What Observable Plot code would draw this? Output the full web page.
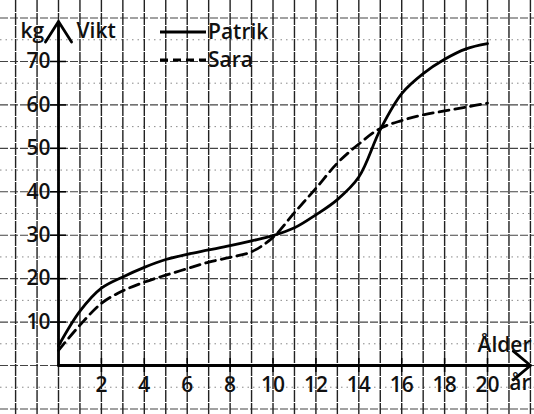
<!DOCTYPE html>
<html>
<head>
<meta charset="utf-8">
<script src="https://cdn.jsdelivr.net/npm/d3@7"></script>
<script src="https://cdn.jsdelivr.net/npm/@observablehq/plot@0.6"></script>
<style>
  html, body { margin: 0; padding: 0; background: #fff; }
  #chart svg { display: block; }
</style>
</head>
<body>
<div id="chart"></div>
<script>
// Data (age in years, weight in kg)
const ages = [0,1,2,3,4,5,6,7,8,9,10,11,12,13,14,15,16,17,18,19,20];
const patrik = [4.5,12.5,17.8,20.4,22.6,24.4,25.6,26.6,27.6,28.7,29.9,31.7,34.7,38.2,43.4,54.3,62.6,67.2,70.5,72.9,74.1];
const sara   = [3.5,9.3,14.3,17.2,19.2,20.8,22.3,23.8,24.9,26.2,29.5,35.2,40.8,46.6,51.0,54.6,56.4,57.7,58.6,59.5,60.4];
const seriesNames = ["Patrik", "Sara"];
const xTickValues = [2,4,6,8,10,12,14,16,18,20];
const yTickValues = [10,20,30,40,50,60,70];

const W = 534, H = 414;
const xDomain = [-2.704, 22.19];
const yDomain = [-11.28, 84.04];
const pxX = W / (xDomain[1] - xDomain[0]);
const pxY = H / (yDomain[1] - yDomain[0]);

const rows = [];
ages.forEach((a, i) => {
  rows.push({age: a, kg: patrik[i], who: seriesNames[0]});
  rows.push({age: a, kg: sara[i], who: seriesNames[1]});
});

const gridX = d3.range(-2, 23);
const gridY10 = d3.range(-10, 85, 10);
const gridY5 = d3.range(-5, 85, 10);
const font = "Open Sans";
const fs = 21;
const fw = 600;

const chart = Plot.plot({
  width: W, height: H, margin: 0,
  style: {fontFamily: font, background: "#fff", color: "#111"},
  x: {domain: xDomain, axis: null},
  y: {domain: yDomain, axis: null},
  marks: [
    Plot.ruleY(gridY5, {stroke: "#888", strokeWidth: 1, strokeDasharray: "1.5,4"}),
    Plot.ruleY(gridY10, {stroke: "#444", strokeWidth: 1.1, strokeDasharray: "8,2"}),
    Plot.ruleX(gridX, {stroke: "#222", strokeWidth: 1.4, strokeDasharray: "12,1"}),
    // axes
    Plot.arrow([0], {x1: 0, y1: 0, x2: xDomain[1], y2: 0, insetEnd: 4, headLength: 12, headAngle: 80, stroke: "#000", strokeWidth: 2.8}),
    Plot.arrow([0], {x1: 0, y1: 0, x2: 0, y2: yDomain[1], insetEnd: 21, headLength: 13, headAngle: 65, stroke: "#000", strokeWidth: 2.8}),
    Plot.ruleY(yTickValues, {y: d => d, x1: -8 / pxX, x2: 8 / pxX, stroke: "#000", strokeWidth: 1.5}),
    Plot.ruleX(xTickValues, {x: d => d, y1: -7 / pxY, y2: 7 / pxY, stroke: "#000", strokeWidth: 1.5}),
    Plot.text(yTickValues, {x: 0, y: d => d, text: d => String(d), textAnchor: "end", lineAnchor: "middle", dx: -8, fontSize: fs, fontWeight: fw, fill: "#111"}),
    Plot.text(xTickValues, {x: d => d, y: 0, text: d => String(d), lineAnchor: "middle", dy: 20, fontSize: fs, fontWeight: fw, fill: "#111"}),
    // curves
    Plot.line(rows.filter(d => d.who === seriesNames[0]), {x: "age", y: "kg", curve: "catmull-rom", stroke: "#000", strokeWidth: 2.8}),
    Plot.line(rows.filter(d => d.who === seriesNames[1]), {x: "age", y: "kg", curve: "catmull-rom", stroke: "#000", strokeWidth: 2.8, strokeDasharray: "10,6"}),
    // axis labels
    Plot.text(["kg"], {x: 0, frameAnchor: "top", lineAnchor: "middle", dy: 31, dx: -38, textAnchor: "start", fontSize: fs, fontWeight: fw, fill: "#111"}),
    Plot.text(["Vikt"], {x: 0, frameAnchor: "top", lineAnchor: "middle", dy: 31, dx: 18, textAnchor: "start", fontSize: fs, fontWeight: fw, fill: "#111"}),
    Plot.text(["Ålder"], {y: 0, frameAnchor: "right", lineAnchor: "middle", dy: -20, dx: -3, textAnchor: "end", fontSize: fs, fontWeight: fw, fill: "#111"}),
    Plot.text(["år"], {y: 0, frameAnchor: "right", lineAnchor: "middle", dy: 18, dx: -4, textAnchor: "end", fontSize: fs, fontWeight: fw, fill: "#111"})
  ]
});

// legend overlay
const svg = d3.select(chart);
const lg = svg.append("g").attr("font-family", font).attr("font-size", fs).attr("font-weight", fw).attr("fill", "#111").attr("text-anchor", "start");
seriesNames.forEach((name, i) => {
  const yy = 32 + i * 28;
  lg.append("line").attr("x1", 160).attr("x2", 206).attr("y1", yy).attr("y2", yy)
    .attr("stroke", "#000").attr("stroke-width", 2.8)
    .attr("stroke-dasharray", i === 1 ? "8,5" : null);
  lg.append("text").attr("x", 208).attr("y", yy).attr("dy", "0.35em").text(name);
});

document.getElementById("chart").appendChild(chart);
</script>
</body>
</html>
